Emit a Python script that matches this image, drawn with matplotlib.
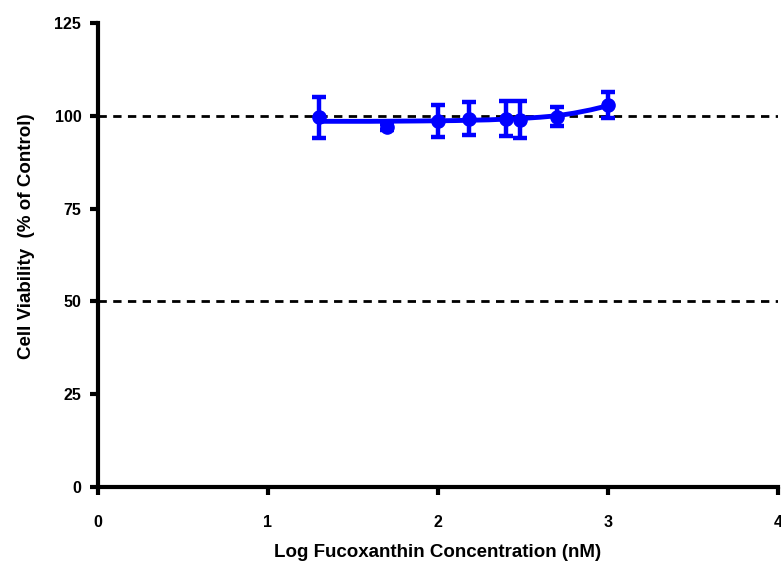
import matplotlib
matplotlib.use("Agg")
import matplotlib.pyplot as plt

plt.rcParams['font.family'] = ['Liberation Sans', 'DejaVu Sans']

# measured points (log nM), mean viability and error
log_conc = [1.30, 1.70, 2.00, 2.18, 2.40, 2.48, 2.70, 3.00]
viability = [99.6, 96.9, 98.6, 99.2, 99.2, 98.9, 99.8, 102.9]
err = [5.5, 0.8, 4.4, 4.4, 4.7, 5.0, 2.5, 3.6]

# fitted curve
fit_x = [1.30, 1.60, 1.90, 2.10, 2.30, 2.50, 2.60, 2.70, 2.80, 2.90, 3.00]
fit_y = [98.5, 98.5, 98.6, 98.7, 98.9, 99.3, 99.6, 100.0, 100.7, 101.6, 102.7]

xticks = [0, 1, 2, 3, 4]
yticks = [0, 25, 50, 75, 100, 125]
ref_lines = [50, 100]

BLUE = '#0000ff'

fig = plt.figure(figsize=(7.81, 5.68), dpi=100)
ax = fig.add_axes([0.1255, 0.1426, 0.8705, 0.817])

for r in ref_lines:
    ax.axhline(r, color='black', lw=2, ls=(0, (3, 2.3)), zorder=1)

ax.plot(fit_x, fit_y, color=BLUE, lw=3.5, zorder=3)
ax.errorbar(log_conc, viability, yerr=err, fmt='o', color=BLUE, ms=9.5,
            elinewidth=3.2, capsize=5, capthick=3.2, zorder=4)

ax.set_xlim(0, 4)
ax.set_ylim(0, 125)
ax.set_xticks(xticks)
ax.set_yticks(yticks)
ax.set_xticklabels([str(t) for t in xticks])
ax.set_yticklabels([str(t) for t in yticks])

for s in ['top', 'right']:
    ax.spines[s].set_visible(False)
for s in ['left', 'bottom']:
    ax.spines[s].set_linewidth(3)
ax.tick_params(width=3, length=6, labelsize=11.5, direction='out', pad=6)
for lab in ax.get_xticklabels() + ax.get_yticklabels():
    lab.set_fontweight('bold')
ax.tick_params(axis='x', pad=14)

ax.set_xlabel('Log Fucoxanthin Concentration (nM)', fontsize=13.5,
              fontweight='bold', labelpad=10)
ax.set_ylabel('Cell Viability  (% of Control)', fontsize=13.5,
              fontweight='bold')
ax.yaxis.set_label_coords(-0.093, 0.54)

fig.savefig('out.png', dpi=100)
